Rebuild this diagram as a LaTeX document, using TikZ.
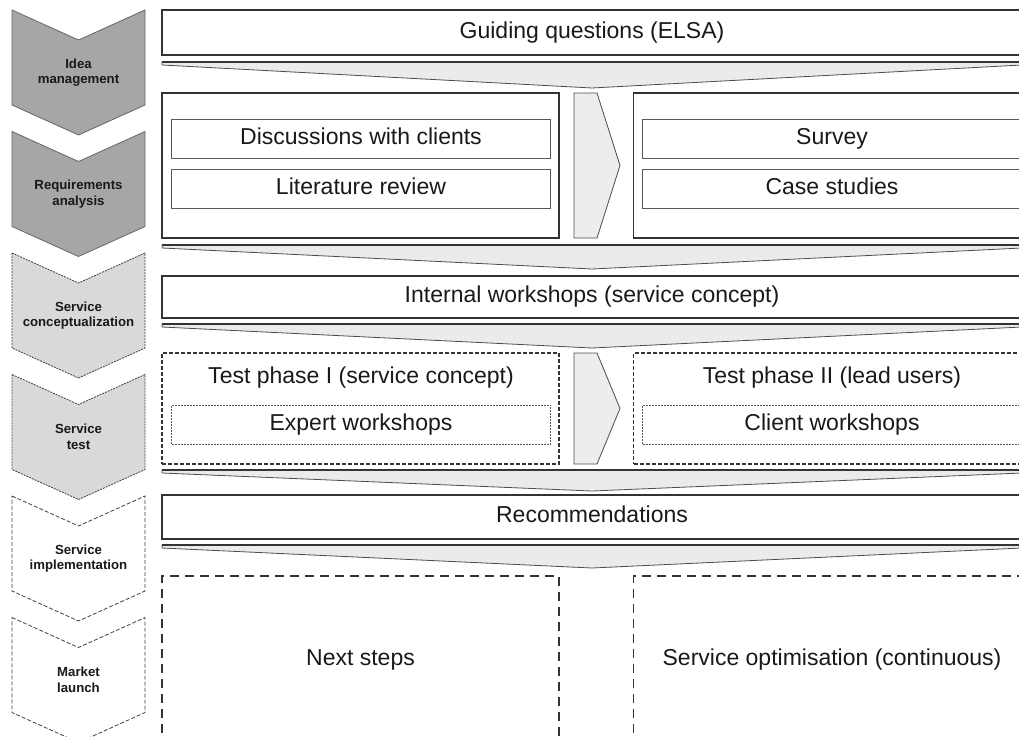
\documentclass[tikz,border=0pt]{standalone}
\usepackage{fontspec}
\setmainfont{Liberation Sans}
\usepackage{tikz}
\usetikzlibrary{calc}

\tikzset{
  chevA/.style={fill=black!35,draw=black!60,line width=0.8pt},
  chevB/.style={fill=black!15,draw=black!75,line width=0.8pt,dash pattern=on 2pt off 1pt},
  chevC/.style={fill=white,draw=black!75,line width=0.8pt,dash pattern=on 4pt off 2pt},
  chevlabel/.style={font=\fontsize{13.2}{15.5}\selectfont\bfseries,align=center,text=black!90,
    text height=,text depth=},
  bandbox/.style={draw=black!80,line width=1.4pt,fill=white,inner sep=0pt,minimum width=860,minimum height=#1},
  outerbox/.style={draw=black!80,line width=1.4pt,inner sep=0pt,minimum width=397},
  innerbox/.style={draw=black!65,line width=1pt,inner sep=0pt,minimum width=379,minimum height=39},
  outerdash/.style={outerbox,dash pattern=on 4pt off 2pt},
  innerdash/.style={innerbox,line width=0.8pt,dash pattern=on 2pt off 1pt},
  opendash/.style={outerbox,line width=1.3pt,dash pattern=on 9pt off 6pt},
  funnel/.style={fill=black!8,draw=black!70,line width=0.8pt},
  funneltop/.style={draw=black!80,line width=1.6pt},
  nextarrow/.style={fill=black!7,draw=black!70,line width=0.8pt}
}

\begin{document}
\begin{tikzpicture}[x=1pt,y=-1pt,every node/.style={font=\fontsize{23}{27}\selectfont,text=black!90,
    text height=16.5,text depth=5}]
  \useasboundingbox (0,0) rectangle (1019,736);
  \clip (0,0) rectangle (1019,736);
  % phase chevrons on the left
  \foreach \i/\sty/\txt in {0/chevA/{Idea\\management},1/chevA/{Requirements\\analysis},
      2/chevB/{Service\\conceptualization},3/chevB/{Service\\test},
      4/chevC/{Service\\implementation},5/chevC/{Market\\launch}}{
    \pgfmathsetmacro{\yt}{10+121.5*\i}
    \draw[\sty] (12,\yt) -- (78.5,\yt+30) -- (145,\yt) -- (145,\yt+95) -- (78.5,\yt+125) -- (12,\yt+95) -- cycle;
    \node[chevlabel] (phase\i) at (78.5,\yt+62.5) {\txt};
  }
  % funnels between the rows
  \foreach \ya/\yb in {62/88,245/269,324/348,470/491,545/568}{
    \draw[funnel] (162,\ya) -- (1022,\ya) -- (1022,\ya+3) -- (592,\yb) -- (162,\ya+3) -- cycle;
    \draw[funneltop] (162,\ya) -- (1022,\ya);
  }
  % small arrows between the two columns
  \foreach \ya/\yb in {93/238,353/464}
    \draw[nextarrow] (574,\ya) -- (597,\ya) -- (620,{(\ya+\yb)/2}) -- (597,\yb) -- (574,\yb) -- cycle;
  % idea management
  \node[bandbox=45] (guide) at (592,32.5) {Guiding questions (ELSA)};
  % requirements analysis
  \node[outerbox,minimum height=145] (reqL) at (360.5,165.5) {};
  \node[innerbox] (disc) at (361,138.5) {Discussions with clients};
  \node[innerbox] (lit) at (361,188.5) {Literature review};
  \node[outerbox,minimum height=145] (reqR) at (832,165.5) {};
  \node[innerbox] (survey) at (832,138.5) {Survey};
  \node[innerbox] (cases) at (832,188.5) {Case studies};
  % service conceptualization
  \node[bandbox=42] (intw) at (592,297) {Internal workshops (service concept)};
  % service test
  \node[outerdash,minimum height=111] (testL) at (360.5,408.5) {};
  \node (testLt) at (361,378) {Test phase I (service concept)};
  \node[innerdash] (expert) at (361,424.5) {Expert workshops};
  \node[outerdash,minimum height=111] (testR) at (832,408.5) {};
  \node (testRt) at (832,378) {Test phase II (lead users)};
  \node[innerdash] (clientw) at (832,424.5) {Client workshops};
  % service implementation
  \node[bandbox=44] (recs) at (592,517) {Recommendations};
  % market launch
  \node[opendash,minimum height=168] (nextL) at (360.5,660) {Next steps};
  \node[opendash,minimum height=168] (optim) at (832,660) {Service optimisation (continuous)};
\end{tikzpicture}
\end{document}
